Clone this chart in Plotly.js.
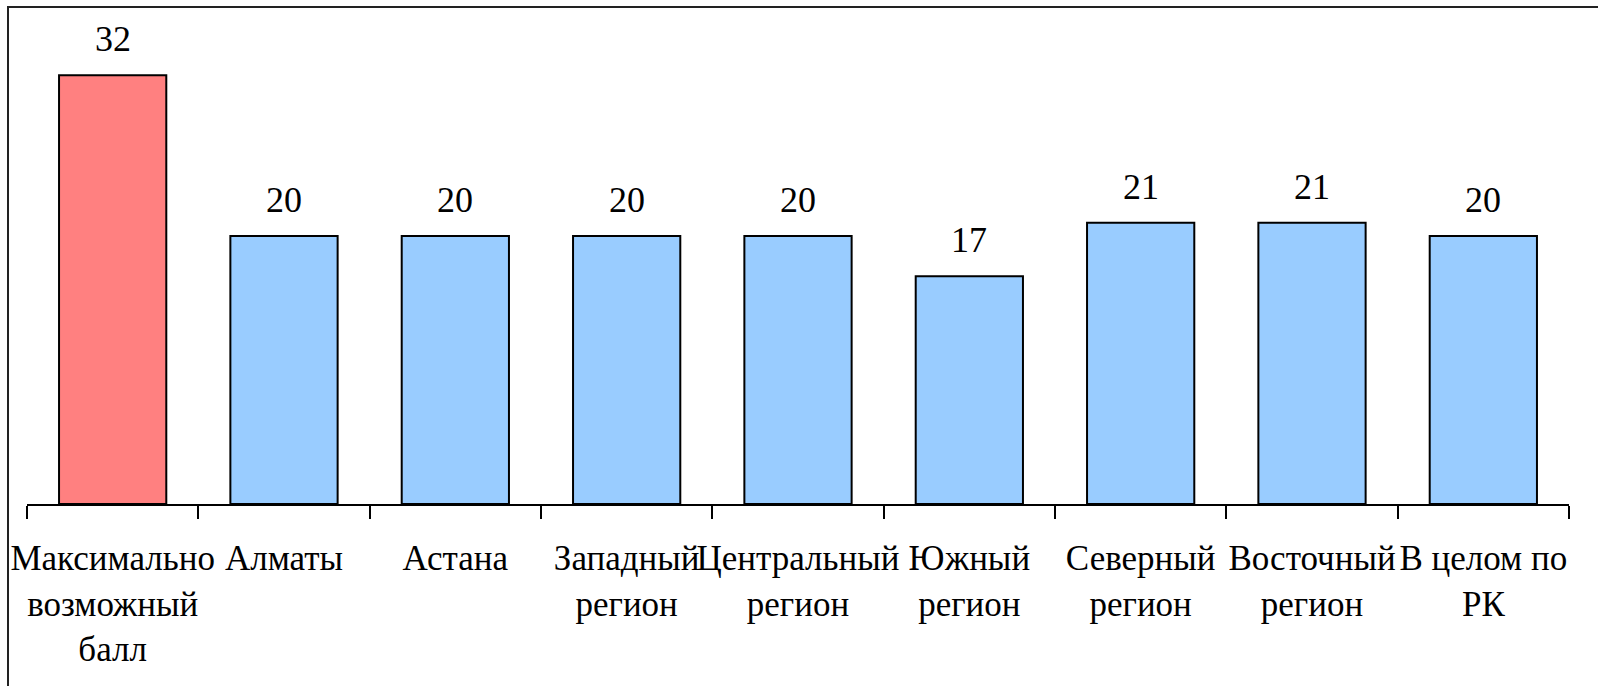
<!DOCTYPE html>
<html>
<head>
<meta charset="utf-8">
<script src="https://cdn.plot.ly/plotly-3.0.1.min.js"></script>
</head>
<body style="margin:0;background:#fff;font-family:'Liberation Serif',serif;font-size:35px">
<div style="position:absolute;left:0;top:0;color:#fff;font-family:'Liberation Serif';font-size:35px">&nbsp;</div>
<div id="chart" style="width:1598px;height:686px"></div>
<div style="position:absolute;left:7px;top:6px;width:1596px;height:700px;border:2px solid #222;box-sizing:border-box;pointer-events:none"></div>
<script>
const categories = [
  "Максимально<br>возможный<br>балл",
  "Алматы",
  "Астана",
  "Западный<br>регион",
  "Центральный<br>регион",
  "Южный<br>регион",
  "Северный<br>регион",
  "Восточный<br>регион",
  "В целом по<br>РК"
];
const values = [32, 20, 20, 20, 20, 17, 21, 21, 20];
const barColors = ["#FF8080", "#99CCFF", "#99CCFF", "#99CCFF", "#99CCFF",
                   "#99CCFF", "#99CCFF", "#99CCFF", "#99CCFF"];

const FONT = "Liberation Serif";

const trace = {
  type: "bar",
  x: categories,
  y: values,
  marker: { color: barColors, line: { color: "#000000", width: 2 } },
  hoverinfo: "skip"
};

const annotations = categories.map((c, i) => ({
  x: c, y: values[i], xref: "x", yref: "y",
  text: String(values[i]),
  showarrow: false, yanchor: "bottom", yshift: 14,
  font: { family: FONT, size: 36, color: "#000000" }
}));

const layout = {
  width: 1598, height: 686,
  margin: { l: 27, r: 29, t: 7, b: 182, pad: 0 },
  paper_bgcolor: "#ffffff", plot_bgcolor: "#ffffff",
  showlegend: false,
  bargap: 0.374,
  font: { family: FONT, size: 34, color: "#000000" },
  xaxis: {
    type: "category",
    showline: true, linecolor: "#000000", linewidth: 2,
    ticks: "outside", tickson: "boundaries", ticklen: 13, tickwidth: 2, tickcolor: "#000000",
    tickfont: { family: FONT, size: 35, color: "#000000" },
    tickangle: 0,
    ticklabelstandoff: 22,
    showgrid: false, zeroline: false, fixedrange: true
  },
  yaxis: {
    range: [0, 37.1],
    showline: false, showgrid: false, zeroline: false,
    showticklabels: false, ticks: "", fixedrange: true
  },
  annotations: annotations
};

Plotly.newPlot("chart", [trace], layout, { displayModeBar: false });
</script>
</body>
</html>
